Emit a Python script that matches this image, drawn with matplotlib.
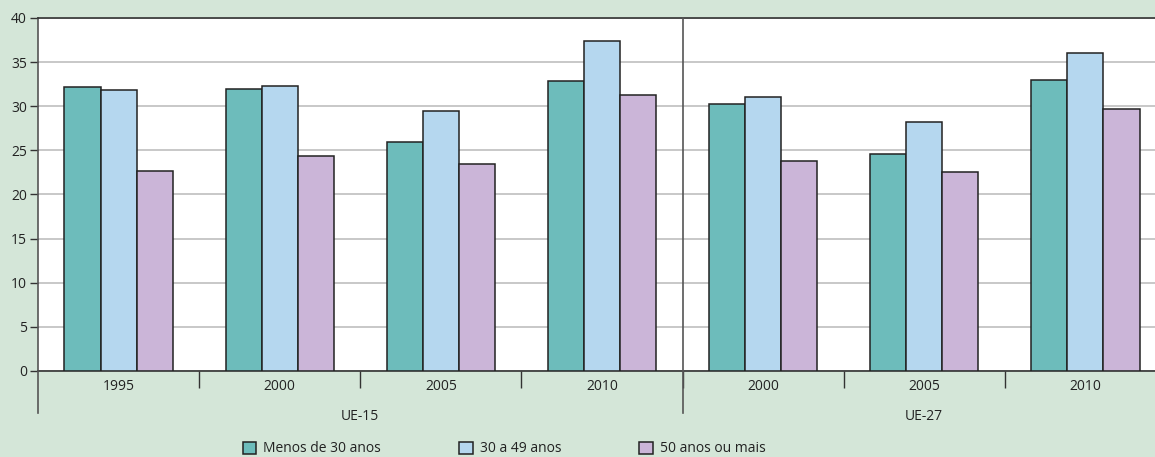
import matplotlib.pyplot as plt
import numpy as np

plt.rcParams['font.family'] = ['Open Sans', 'DejaVu Sans']

# Share of workers, by age band, per survey year
regions = ['UE-15', 'UE-27']
years = ['1995', '2000', '2005', '2010', '2000', '2005', '2010']
series_names = ['Menos de 30 anos', '30 a 49 anos', '50 anos ou mais']
under_30 = [32.2, 32.0, 26.0, 32.9, 30.2, 24.6, 33.0]
from_30_to_49 = [31.8, 32.3, 29.5, 37.4, 31.0, 28.2, 36.0]
over_50 = [22.7, 24.4, 23.5, 31.3, 23.8, 22.5, 29.7]
region_sizes = [4, 3]

colors = ['#6dbcbb', '#b5d7ef', '#cbb5d8']
bg = '#d4e6d8'

W, H = 1155, 457
fig = plt.figure(figsize=(W / 100, H / 100), dpi=100)
fig.patch.set_facecolor(bg)

# plot area runs a little past the right edge
left, right, top, bottom = 38, 1166, 18, 371
ax = fig.add_axes([left / W, 1 - bottom / H, (right - left) / W, (bottom - top) / H])
ax.set_facecolor('white')

x = np.arange(len(years))
w = 0.224
for i, (vals, name) in enumerate(zip([under_30, from_30_to_49, over_50], series_names)):
    ax.bar(x + (i - 1) * w, vals, w, color=colors[i], edgecolor='#222222',
           linewidth=1.1, label=name, zorder=3)

ax.set_xlim(-0.5, len(years) - 0.5)
ax.set_ylim(0, 40)
ax.set_yticks(range(0, 41, 5))
ax.yaxis.grid(True, color='#c4c4c4', linewidth=1.3, zorder=0)
ax.tick_params(axis='y', length=6, width=1, color='#333333', labelsize=10,
               labelcolor='#222222', pad=2)

ax.spines['right'].set_visible(False)
ax.spines['top'].set_color('#333333')
ax.spines['top'].set_linewidth(1.2)
ax.spines['left'].set_color('#555555')
ax.spines['left'].set_linewidth(1.2)
ax.spines['bottom'].set_color('#333333')
ax.spines['bottom'].set_linewidth(1.2)

# year labels at group centres, short ticks between groups
ax.set_xticks(x)
ax.set_xticklabels(years)
ax.tick_params(axis='x', length=0, labelsize=10, labelcolor='#222222', pad=6)
ax.set_xticks(x[:-1] + 0.5, minor=True)
ax.tick_params(axis='x', which='minor', length=12, width=1, color='#333333')

# region separator and region labels
axis_h = bottom - top
drop = (413 - bottom) / axis_h
start = 0
for k, (name, n) in enumerate(zip(regions, region_sizes)):
    lo = start - 0.5
    hi = start + n - 0.5
    ax.plot([lo, lo], [-drop, 1 if k else 0], transform=ax.get_xaxis_transform(),
            color='#555555', linewidth=1.2, clip_on=False, zorder=5)
    ax.text((lo + hi) / 2, -(417 - bottom) / axis_h, name,
            transform=ax.get_xaxis_transform(), ha='center', va='center',
            fontsize=10, color='#222222')
    start += n

fig.legend(loc='center left', bbox_to_anchor=(230 / W, 1 - 449 / H), ncol=3,
           frameon=False, fontsize=10, handlelength=1.0, handleheight=1.0,
           handletextpad=0.5, columnspacing=5.6, labelcolor='#222222')

fig.savefig('out.png', dpi=100, facecolor=bg)
